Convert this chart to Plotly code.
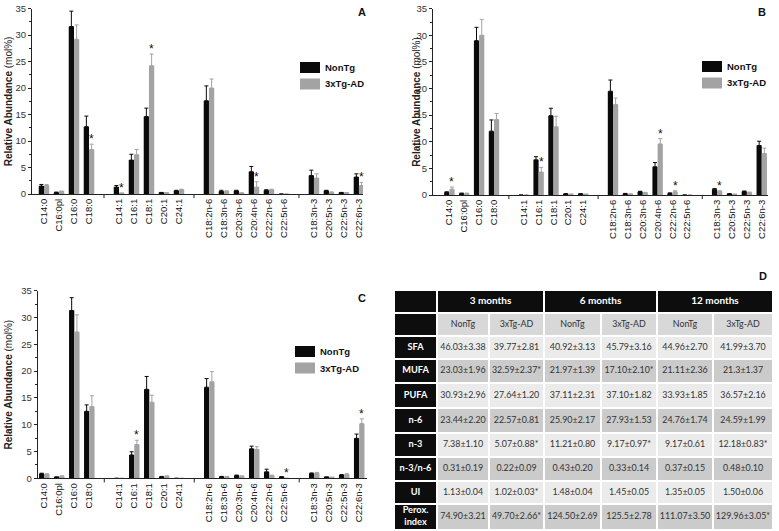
import plotly.graph_objects as go

W, H = 779, 531

# ---------------- data ----------------
categories = ["C14:0", "C16:0pl", "C16:0", "C18:0",
              "C14:1", "C16:1", "C18:1", "C20:1", "C24:1",
              "C18:2n-6", "C18:3n-6", "C20:3n-6", "C20:4n-6", "C22:2n-6", "C22:5n-6",
              "C18:3n-3", "C20:5n-3", "C22:5n-3", "C22:6n-3"]
group_sizes = [4, 5, 6, 4]
series_names = ["NonTg", "3xTg-AD"]

# Panel A
A_nontg = [1.5, 0.3, 31.6, 12.7, 1.3, 6.4, 14.6, 0.25, 0.6, 17.6, 0.5, 0.6, 4.2, 0.7, 0, 3.5, 0.6, 0.25, 3.2]
A_nontg_err = [0.3, 0.05, 2.9, 2.0, 0.3, 1.1, 1.6, 0.05, 0.1, 2.8, 0.2, 0.1, 1.0, 0.1, 0, 1.0, 0.1, 0.05, 0.6]
A_tg = [1.6, 0.5, 29.2, 8.4, 0.1, 7.4, 24.2, 0.2, 0.8, 20.0, 0.5, 0.15, 1.3, 0.8, 0, 3.0, 0.3, 0.2, 1.6]
A_tg_err = [0.2, 0.05, 2.7, 1.0, 0.05, 1.0, 2.2, 0.05, 0.1, 1.7, 0.1, 0.05, 1.0, 0.1, 0, 0.8, 0.1, 0.05, 0.6]
A_sig = ["C18:0", "C14:1", "C18:1", "C20:4n-6", "C22:6n-3"]

# Panel B
B_nontg = [0.5, 0.3, 29.0, 12.0, 0, 6.6, 14.9, 0.2, 0.2, 19.5, 0.25, 0.6, 5.3, 0.3, 0, 1.1, 0.2, 0.65, 9.3]
B_nontg_err = [0.1, 0.05, 2.5, 2.1, 0, 0.6, 1.4, 0.05, 0.05, 2.1, 0.05, 0.1, 0.8, 0.1, 0, 0.1, 0.05, 0.1, 0.8]
B_tg = [1.1, 0.3, 30.0, 14.2, 0, 4.3, 12.8, 0.1, 0.1, 17.0, 0.15, 0.4, 9.6, 0.6, 0, 0.7, 0.1, 0.45, 7.8]
B_tg_err = [0.4, 0.05, 3.0, 1.1, 0, 0.9, 2.0, 0.05, 0.05, 1.2, 0.05, 0.1, 1.0, 0.2, 0, 0.1, 0.05, 0.1, 1.0]
B_sig = ["C14:0", "C16:1", "C20:4n-6", "C22:2n-6", "C18:3n-3"]

# Panel C
C_nontg = [0.85, 0.2, 31.3, 12.5, 0, 4.35, 16.6, 0.3, 0, 17.0, 0.3, 0.5, 5.5, 1.2, 0.25, 0.9, 0.2, 0.6, 7.45]
C_nontg_err = [0.1, 0.05, 2.4, 1.2, 0, 0.6, 2.4, 0.05, 0, 1.6, 0.05, 0.1, 0.5, 0.5, 0.05, 0.1, 0.05, 0.1, 0.8]
C_tg = [0.75, 0.4, 27.3, 13.4, 0, 6.3, 14.2, 0.4, 0, 18.0, 0.3, 0.4, 5.4, 0.5, 0, 1.0, 0.15, 0.75, 10.2]
C_tg_err = [0.1, 0.05, 3.2, 2.0, 0, 0.8, 1.3, 0.05, 0, 1.9, 0.05, 0.05, 0.5, 0.1, 0, 0.1, 0.05, 0.1, 0.9]
C_sig = ["C16:1", "C22:5n-6", "C22:6n-3"]

y_ticks = [0, 5, 10, 15, 20, 25, 30, 35]

# Panel D (table)
table_periods = ["3 months", "6 months", "12 months"]
table_groups = ["NonTg", "3xTg-AD"]
table_rows = ["SFA", "MUFA", "PUFA", "n-6", "n-3", "n-3/n-6", "UI", "Perox.<br>index"]
t3_nontg = ["46.03±3.38", "23.03±1.96", "30.93±2.96", "23.44±2.20", "7.38±1.10", "0.31±0.19", "1.13±0.04", "74.90±3.21"]
t3_tg = ["39.77±2.81", "32.59±2.37*", "27.64±1.20", "22.57±0.81", "5.07±0.88*", "0.22±0.09", "1.02±0.03*", "49.70±2.66*"]
t6_nontg = ["40.92±3.13", "21.97±1.39", "37.11±2.31", "25.90±2.17", "11.21±0.80", "0.43±0.20", "1.48±0.04", "124.50±2.69"]
t6_tg = ["45.79±3.16", "17.10±2.10*", "37.10±1.82", "27.93±1.53", "9.17±0.97*", "0.33±0.14", "1.45±0.05", "125.5±2.78"]
t12_nontg = ["44.96±2.70", "21.11±2.36", "33.93±1.85", "24.76±1.74", "9.17±0.61", "0.37±0.15", "1.35±0.05", "111.07±3.50"]
t12_tg = ["41.99±3.70", "21.3±1.37", "36.57±2.16", "24.59±1.99", "12.18±0.83*", "0.48±0.10", "1.50±0.06", "129.96±3.05*"]

# ---------------- styling ----------------
BLACK = "#0a0a0a"
GREY = "#a3a3a3"
AX = "#222222"
FONT = "Liberation Sans, Arial, sans-serif"
TFONT = "Lato, sans-serif"


def px_x(p):
    return p / W


def px_y(p):
    return 1 - p / H


# slot positions (one empty slot between groups)
positions, gap_slots = [], []
slot = 0
for gi, n in enumerate(group_sizes):
    for _ in range(n):
        positions.append(slot)
        slot += 1
    if gi < len(group_sizes) - 1:
        gap_slots.append(slot)
        slot += 1

panels = [
    dict(key="A", ax="", nontg=A_nontg, nerr=A_nontg_err, tg=A_tg, terr=A_tg_err, sig=A_sig,
         xpx=(32, 363), ypx=(8.5, 194), xr=(-0.8, 21.27), leg=(300, 62), letter=(362, 12), ytx=8),
    dict(key="B", ax="2", nontg=B_nontg, nerr=B_nontg_err, tg=B_tg, terr=B_tg_err, sig=B_sig,
         xpx=(433, 768), ypx=(8.7, 195), xr=(-1.1, 21.42), leg=(702, 61), letter=(762, 12), ytx=417),
    dict(key="C", ax="3", nontg=C_nontg, nerr=C_nontg_err, tg=C_tg, terr=C_tg_err, sig=C_sig,
         xpx=(37.7, 366.7), ypx=(290.7, 478.3), xr=(-0.44, 21.5), leg=(295, 346), letter=(362, 298), ytx=8),
]

fig = go.Figure()
shapes, annotations = [], []
layout_axes = {}

for p in panels:
    xa, ya = "x" + p["ax"], "y" + p["ax"]
    fig.add_trace(go.Bar(
        x=positions, y=p["nontg"], name=series_names[0], xaxis=xa, yaxis=ya,
        marker=dict(color=BLACK, line=dict(width=0)), showlegend=False,
        error_y=dict(type="data", symmetric=False, array=p["nerr"], arrayminus=[0] * len(positions),
                     color=BLACK, thickness=1, width=2)))
    fig.add_trace(go.Bar(
        x=positions, y=p["tg"], name=series_names[1], xaxis=xa, yaxis=ya,
        marker=dict(color=GREY, line=dict(width=0)), showlegend=False,
        error_y=dict(type="data", symmetric=False, array=p["terr"], arrayminus=[0] * len(positions),
                     color=GREY, thickness=1, width=2)))

    layout_axes["xaxis" + p["ax"]] = dict(
        domain=[px_x(p["xpx"][0]), px_x(p["xpx"][1])], anchor=ya, range=list(p["xr"]),
        tickvals=positions, ticktext=categories, tickangle=-90, ticks="",
        showline=True, linecolor=AX, linewidth=1, showgrid=False, zeroline=False,
        tickfont=dict(family=FONT, size=9.5, color="#111"), automargin=False, fixedrange=True)
    layout_axes["yaxis" + p["ax"]] = dict(
        domain=[px_y(p["ypx"][1]), px_y(p["ypx"][0])], anchor=xa, range=[0, 35],
        tickvals=y_ticks, ticks="outside", ticklen=3, tickcolor=AX,
        minor=dict(dtick=2.5, ticks="outside", ticklen=2, tickcolor=AX),
        showline=True, linecolor=AX, linewidth=1, showgrid=False, zeroline=False,
        tickfont=dict(family=FONT, size=9.5, color="#333"), automargin=False, fixedrange=True)

    # group separator ticks
    for g in gap_slots:
        shapes.append(dict(type="line", xref=xa, yref=ya + " domain", x0=g, x1=g, y0=0, y1=-0.022,
                           line=dict(color=AX, width=1)))

    # significance asterisks above 3xTg-AD bars
    for cat in p["sig"]:
        i = categories.index(cat)
        annotations.append(dict(x=positions[i] + 0.175, y=p["tg"][i] + p["terr"][i], xref=xa, yref=ya,
                                text="*", showarrow=False, yanchor="middle", yshift=5,
                                font=dict(family=FONT, size=12, color="#111")))

    # y title
    annotations.append(dict(x=px_x(p["ytx"]), y=px_y((p["ypx"][0] + p["ypx"][1]) / 2), xref="paper", yref="paper",
                            text="<b>Relative Abundance</b> (mol%)", textangle=-90, showarrow=False,
                            xanchor="center", yanchor="middle",
                            font=dict(family=FONT, size=10, color="#222")))
    # panel letter
    annotations.append(dict(x=px_x(p["letter"][0]), y=px_y(p["letter"][1]), xref="paper", yref="paper",
                            text="<b>%s</b>" % p["key"], showarrow=False, xanchor="center", yanchor="middle",
                            font=dict(family=FONT, size=11, color="#111")))
    # legend
    lx, ly = p["leg"]
    for k, (nm, col) in enumerate(zip(series_names, [BLACK, GREY])):
        y0 = ly + k * 16.5
        shapes.append(dict(type="rect", xref="paper", yref="paper", x0=px_x(lx), x1=px_x(lx + 20),
                           y0=px_y(y0 + 11), y1=px_y(y0), fillcolor=col, line=dict(width=0)))
        annotations.append(dict(x=px_x(lx + 23), y=px_y(y0 + 5.5), xref="paper", yref="paper",
                                text="<b>%s</b>" % nm, showarrow=False, xanchor="left", yanchor="middle",
                                font=dict(family=FONT, size=9.5, color="#111")))

# ---------------- table (panel D) ----------------
col_edges = [0, 43, 95, 150, 207, 263, 319, 379]
row_edges = [0, 23, 46, 69, 93, 118, 143, 167, 191, 214, 240]
T_BLACK = "#0d0d0d"
light, dark, sub = "#ebebeb", "#cbcbcb", "#d8d8d8"
data_cols = [t3_nontg, t3_tg, t6_nontg, t6_tg, t12_nontg, t12_tg]


def cell(c0, c1, r0, r1, color):
    shapes.append(dict(type="rect", xref="x4", yref="y4", x0=col_edges[c0] + 1, x1=col_edges[c1] - 1,
                       y0=row_edges[r0] + 1, y1=row_edges[r1] - 1, fillcolor=color, line=dict(width=0),
                       layer="below"))


hx, hy, ht = [], [], []
lx_, ly_, lt_ = [], [], []
dx, dy, dt = [], [], []

# header row
cell(0, 1, 0, 1, T_BLACK)
for k, per in enumerate(table_periods):
    c0, c1 = 1 + 2 * k, 3 + 2 * k
    cell(c0, c1, 0, 1, T_BLACK)
    hx.append((col_edges[c0] + col_edges[c1]) / 2)
    hy.append((row_edges[0] + row_edges[1]) / 2)
    ht.append("<b>%s</b>" % per)
# sub header
cell(0, 1, 1, 2, T_BLACK)
for c in range(6):
    cell(1 + c, 2 + c, 1, 2, sub)
    dx.append((col_edges[1 + c] + col_edges[2 + c]) / 2)
    dy.append((row_edges[1] + row_edges[2]) / 2)
    dt.append(table_groups[c % 2])
# body
for r, lab in enumerate(table_rows):
    rr = r + 2
    cell(0, 1, rr, rr + 1, T_BLACK)
    lx_.append((col_edges[0] + col_edges[1]) / 2)
    ly_.append((row_edges[rr] + row_edges[rr + 1]) / 2)
    lt_.append("<b>%s</b>" % lab)
    for c in range(6):
        cell(1 + c, 2 + c, rr, rr + 1, light if r % 2 == 0 else dark)
        dx.append((col_edges[1 + c] + col_edges[2 + c]) / 2)
        dy.append((row_edges[rr] + row_edges[rr + 1]) / 2)
        dt.append(data_cols[c][r])

fig.add_trace(go.Scatter(x=hx, y=hy, text=ht, mode="text", xaxis="x4", yaxis="y4", showlegend=False,
                         textfont=dict(family=TFONT, size=10, color="white"), hoverinfo="skip"))
fig.add_trace(go.Scatter(x=lx_, y=ly_, text=lt_, mode="text", xaxis="x4", yaxis="y4", showlegend=False,
                         textfont=dict(family=TFONT, size=9.2, color="white"), hoverinfo="skip"))
fig.add_trace(go.Scatter(x=dx, y=dy, text=dt, mode="text", xaxis="x4", yaxis="y4", showlegend=False,
                         textfont=dict(family=TFONT, size=8.9, color="#333"), hoverinfo="skip"))

layout_axes["xaxis4"] = dict(domain=[px_x(394), px_x(773)], anchor="y4", range=[0, 379], visible=False,
                             fixedrange=True)
layout_axes["yaxis4"] = dict(domain=[px_y(530), px_y(290)], anchor="x4", range=[240, 0], visible=False,
                             fixedrange=True)

annotations.append(dict(x=px_x(763), y=px_y(276), xref="paper", yref="paper", text="<b>D</b>",
                        showarrow=False, xanchor="center", yanchor="middle",
                        font=dict(family=FONT, size=11, color="#111")))

fig.update_layout(
    width=W, height=H, margin=dict(l=0, r=0, t=0, b=0, pad=0),
    paper_bgcolor="white", plot_bgcolor="white",
    barmode="group", bargap=0.3, bargroupgap=0,
    shapes=shapes, annotations=annotations, hovermode=False, showlegend=False,
    **layout_axes)

fig.write_html("out.html", include_plotlyjs=True, config={"displayModeBar": False},
               post_script="document.body.style.margin='0';document.body.style.padding='0';")
